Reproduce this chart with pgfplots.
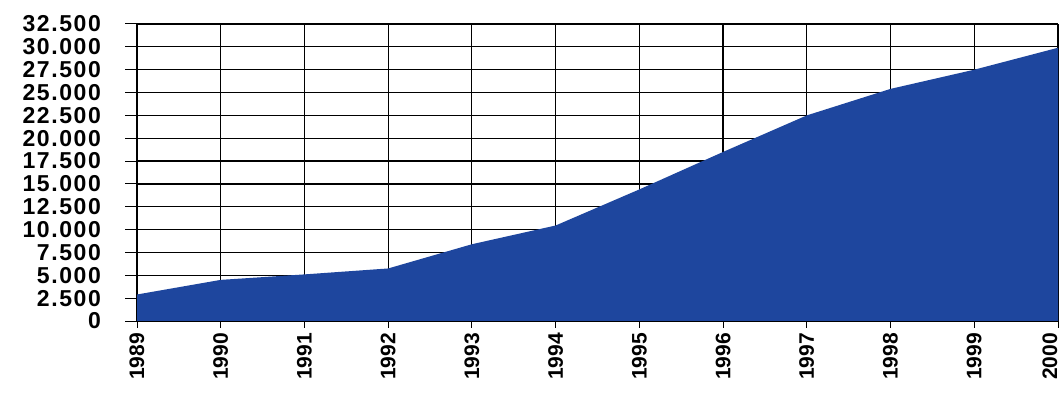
\documentclass[border=0pt]{standalone}
\usepackage{fontspec}
\setmainfont{Liberation Sans}
\newfontfamily\ylab{Liberation Sans}[LetterSpace=7]
\usepackage{pgfplots}
\pgfplotsset{compat=1.18}
\definecolor{areablue}{RGB}{30,70,158}
\begin{document}
\begin{tikzpicture}
\useasboundingbox (0,0) rectangle (1061bp,393bp);
\begin{axis}[
  at={(137bp,72bp)}, anchor=south west,
  scale only axis, width=921bp, height=297bp,
  xmin=1989, xmax=2000, ymin=0, ymax=32500,
  xtick={1989,...,1999}, ytick={0,2500,...,32500},
  extra x ticks={2000},
  extra x tick style={xticklabel style={yshift=8bp}},
  axis lines=left, axis line style={-, line width=1bp},
  grid=major, major grid style={black, line width=1.2bp},
  tick align=outside, major tick length=12bp,
  tick style={black, line width=1bp},
  xtick style={/pgfplots/major tick length=7bp},
  scaled y ticks=false,
  /pgf/number format/1000 sep={.},
  /pgf/number format/assume math mode=true,
  x tick label style={/pgf/number format/1000 sep={}, rotate=90, anchor=east, inner sep=0pt,
    font=\fontsize{21bp}{21bp}\selectfont\bfseries},
  y tick label style={anchor=east, inner sep=0pt, xshift=-24bp,
    font=\fontsize{23bp}{23bp}\ylab\bfseries},
]
\addplot[fill=areablue, draw=none] coordinates {
  (1989,2900) (1990,4500) (1991,5100) (1992,5750) (1993,8400) (1994,10450)
  (1995,14400) (1996,18500) (1997,22500) (1998,25400) (1999,27500) (2000,29900)
} \closedcycle;
\end{axis}
\end{tikzpicture}
\end{document}
